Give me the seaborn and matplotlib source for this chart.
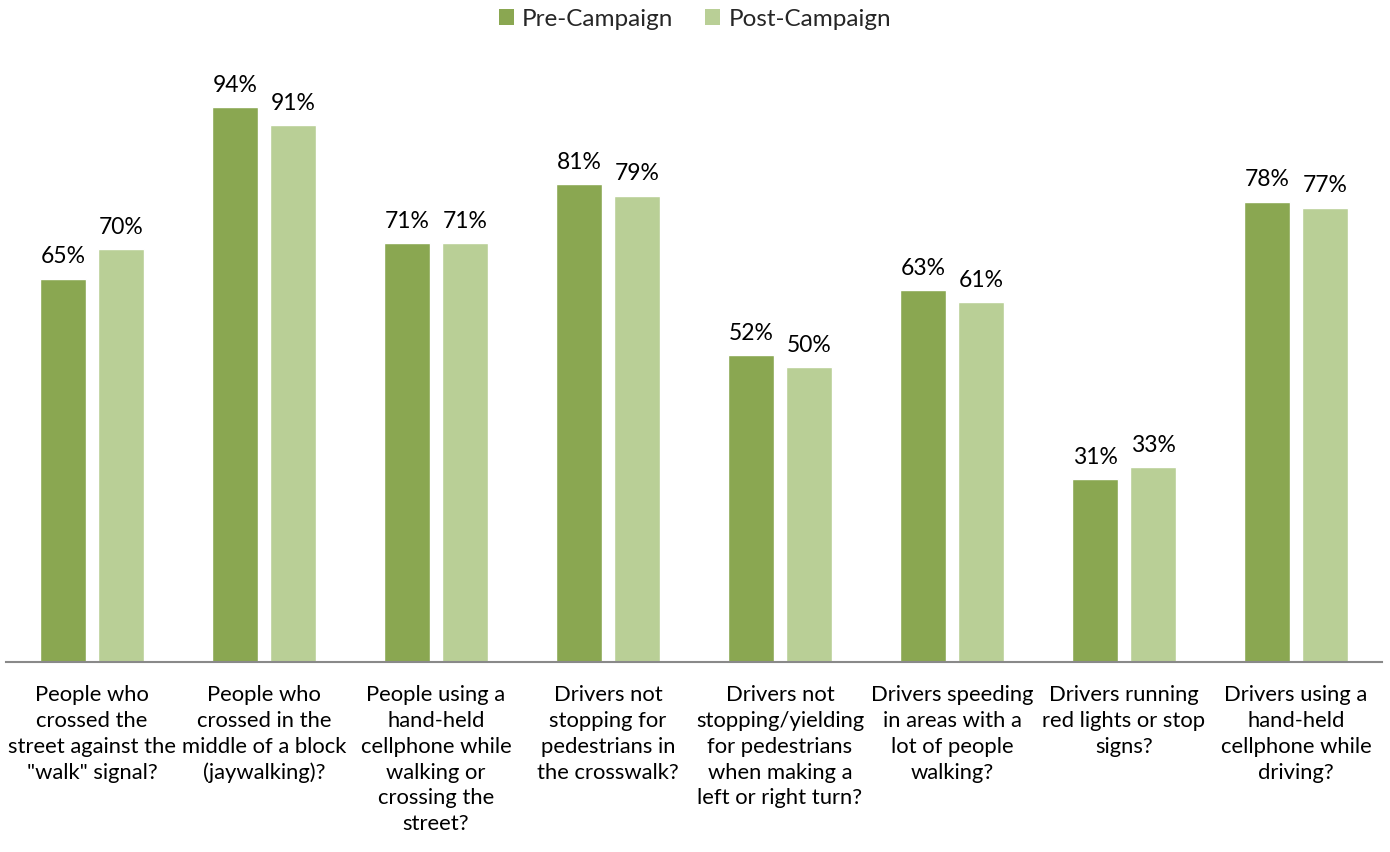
import matplotlib
matplotlib.use("Agg")
import matplotlib.pyplot as plt
import seaborn as sns
import pandas as pd
from matplotlib.patches import Patch

categories = [
    "People who\ncrossed the\nstreet against the\n\"walk\" signal?",
    "People who\ncrossed in the\nmiddle of a block\n(jaywalking)?",
    "People using a\nhand-held\ncellphone while\nwalking or\ncrossing the\nstreet?",
    "Drivers not\nstopping for\npedestrians in\nthe crosswalk?",
    "Drivers not\nstopping/yielding\nfor pedestrians\nwhen making a\nleft or right turn?",
    "Drivers speeding\nin areas with a\nlot of people\nwalking?",
    "Drivers running\nred lights or stop\nsigns?",
    "Drivers using a\nhand-held\ncellphone while\ndriving?",
]
pre_campaign = [65, 94, 71, 81, 52, 63, 31, 78]
post_campaign = [70, 91, 71, 79, 50, 61, 33, 77]
series_names = ["Pre-Campaign", "Post-Campaign"]
colors = ["#8AA751", "#B9CF96"]

df = pd.DataFrame({
    "category": categories * 2,
    "value": pre_campaign + post_campaign,
    "series": [series_names[0]] * len(categories) + [series_names[1]] * len(categories),
})

sns.set_theme(style="white")
plt.rcParams["font.family"] = ["Lato", "DejaVu Sans"]

fig = plt.figure(figsize=(13.9, 8.53), dpi=100)
ax = fig.add_axes([6 / 1390, 190 / 853, 1376 / 1390, (853 - 190 - 73) / 853])

sns.barplot(data=df, x="category", y="value", hue="series", order=categories,
            hue_order=series_names, palette=colors, width=0.674, gap=0.207,
            saturation=1, legend=False, ax=ax)

for cont in ax.containers:
    ax.bar_label(cont, labels=[f"{v:.0f}%" for v in cont.datavalues],
                 padding=9, fontsize=16.5, color="#000000")

ax.set_xlim(-0.5, len(categories) - 0.5)
ax.set_ylim(0, 100)
ax.set_xlabel("")
ax.set_ylabel("")
ax.set_yticks([])
for s in ["top", "right", "left"]:
    ax.spines[s].set_visible(False)
ax.spines["bottom"].set_color("#898989")
ax.spines["bottom"].set_linewidth(1.5)
ax.tick_params(axis="x", length=0, pad=16, labelsize=15.8, labelcolor="#000000")
for lbl in ax.get_xticklabels():
    lbl.set_verticalalignment("top")
    lbl.set_horizontalalignment("center")
    lbl.set_linespacing(1.36)

handles = [Patch(facecolor=c, edgecolor="none", label=n) for c, n in zip(colors, series_names)]
fig.legend(handles=handles, loc="center", bbox_to_anchor=(0.5, 1 - 20 / 853), ncol=2,
           frameon=False, fontsize=17.5, handlelength=0.62, handleheight=0.62,
           handletextpad=0.35, columnspacing=1.3)

fig.savefig("out.png", dpi=100)
